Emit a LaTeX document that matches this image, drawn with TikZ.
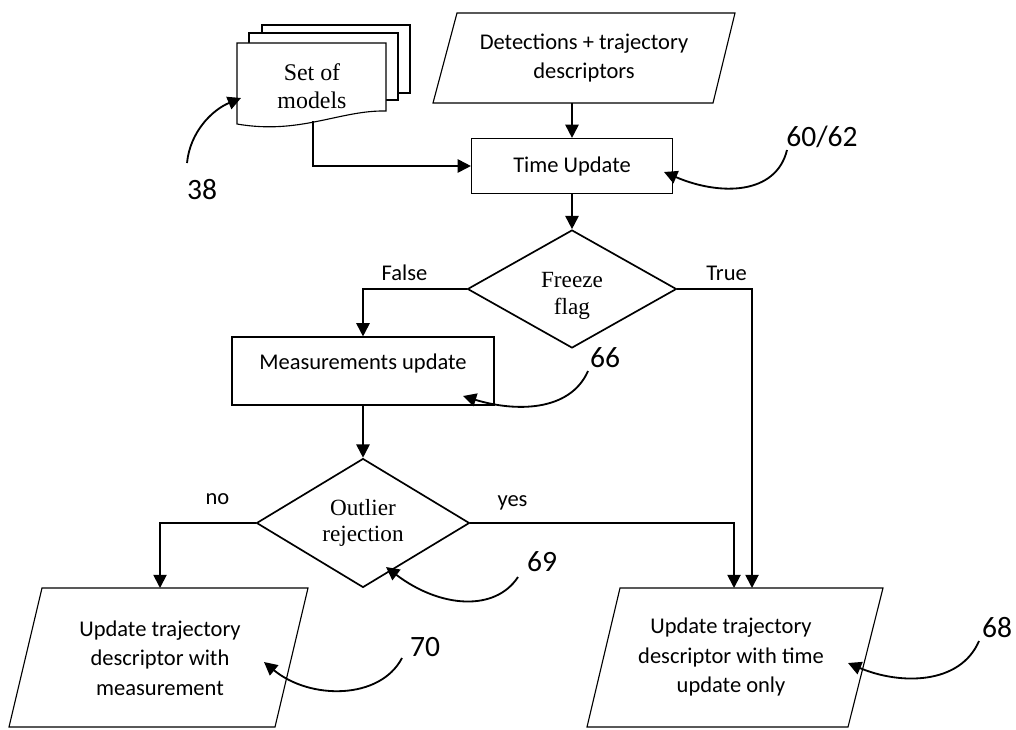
\documentclass[tikz,border=0pt]{standalone}
\usepackage{fontspec}
\setmainfont{Liberation Serif}
\newfontfamily\calibri{Carlito}
\usetikzlibrary{shapes.geometric,arrows.meta}

\begin{document}
\begin{tikzpicture}[x=0.025cm,y=-0.025cm,
    box/.style={draw,line width=0.8pt,fill=white,inner sep=0pt},
    decision/.style={draw,diamond,line width=1.2pt,inner sep=0pt,font=\fontsize{16.5}{19}\selectfont,align=center},
    txt/.style={font=\calibri\fontsize{16}{21}\selectfont,align=center},
    serif/.style={font=\fontsize{17}{20}\selectfont,align=center},
    lbl/.style={font=\calibri\fontsize{16}{19}\selectfont,inner sep=2pt},
    num/.style={font=\calibri\fontsize{21}{24}\selectfont,inner sep=0pt},
    arr/.style={line width=1.3pt,-{Triangle[length=0.33cm,width=0.33cm]}},
    refarr/.style={line width=1.3pt,-{Triangle[length=0.33cm,width=0.33cm]}}]

\useasboundingbox (0,0) rectangle (1016,729);

% stack of model sheets
\draw[box] (262,25) rectangle (410,93);
\draw[box] (249,33) rectangle (398,100);
\draw[box] (237,43) -- (386,43) -- (386,111) .. controls (340,110) and (300,135) .. (237,124) -- cycle;
\node[serif] (models) at (312,86) {Set of\\models};
\coordinate (modelsout) at (313,121);

% input
\draw[box] (457,13) -- (735,13) -- (713,103) -- (433,103) -- cycle;
\node[txt] (det) at (584,58) {Detections + trajectory\\descriptors};
\coordinate (detout) at (572,103);

\node[box,txt,minimum width=201*0.025cm,minimum height=55*0.025cm] (time) at (572,166) {Time Update};
\node[decision,minimum width=209*0.025cm,minimum height=118*0.025cm,text height=36pt,text depth=0pt] (freeze) at (572,289) {Freeze\\flag};
\node[box,txt,minimum width=262*0.025cm,minimum height=68*0.025cm,text depth=13pt] (meas) at (363,371) {Measurements update};
\node[decision,minimum width=213*0.025cm,minimum height=120*0.025cm] (outlier) at (363,523) {Outlier\\rejection};

% outputs
\draw[box] (42,588) -- (308,588) -- (275,727) -- (9,727) -- cycle;
\node[txt] (updmeas) at (160,658) {Update trajectory\\descriptor with\\measurement};
\draw[box] (620,588) -- (883,588) -- (848,727) -- (587,727) -- cycle;
\node[txt] (updtime) at (731,657) {Update trajectory\\descriptor with time\\update only};
\coordinate (nopin) at (160,588);
\coordinate (yespin) at (734,588);
\coordinate (truepin) at (752,588);

% flow
\draw[arr] (detout) -- (detout |- time.north);
\draw[arr] (modelsout) |- (time.west);
\draw[arr] (time) -- (freeze);
\draw[arr] (freeze.west) -| node[lbl,pos=0.3,above=3pt] {False} (meas.north);
\draw[arr] (freeze.east) -| node[lbl,pos=0.33,above=3pt] {True} (truepin);
\draw[arr] (meas) -- (outlier);
\draw[arr] (outlier.west) -| node[lbl,pos=0.2,above=10.5pt] {no} (nopin);
\draw[arr] (outlier.east) -| node[lbl,pos=0.08,above=6.5pt] {yes} (yespin);

% reference numerals
\node[num] (n38) at (202,190) {38};
\node[num] (n6062) at (822,137) {60/62};
\node[num] (n66) at (605,358) {66};
\node[num] (n69) at (542,562) {69};
\node[num] (n70) at (425,647) {70};
\node[num] (n68) at (997,628) {68};
\coordinate (p38) at (241,98);
\coordinate (p6062) at (664,172);
\coordinate (p66) at (463,396);
\coordinate (p69) at (386,567);
\coordinate (p70) at (264,662);
\coordinate (p68) at (848,663);

\draw[refarr] ([shift={(-15,-27)}]n38.center) .. controls (190,132) and (212,110) .. (p38);
\draw[refarr] ([shift={(-35,13)}]n6062.center) .. controls (776,195) and (720,196) .. (p6062);
\draw[refarr] ([shift={(-17,13)}]n66.center) .. controls (570,412) and (515,412) .. (p66);
\draw[refarr] ([shift={(-24,15)}]n69.center) .. controls (495,612) and (440,608) .. (p69);
\draw[refarr] ([shift={(-23,11)}]n70.center) .. controls (380,700) and (310,700) .. (p70);
\draw[refarr] ([shift={(-18,13)}]n68.center) .. controls (960,685) and (900,685) .. (p68);
\end{tikzpicture}
\end{document}
